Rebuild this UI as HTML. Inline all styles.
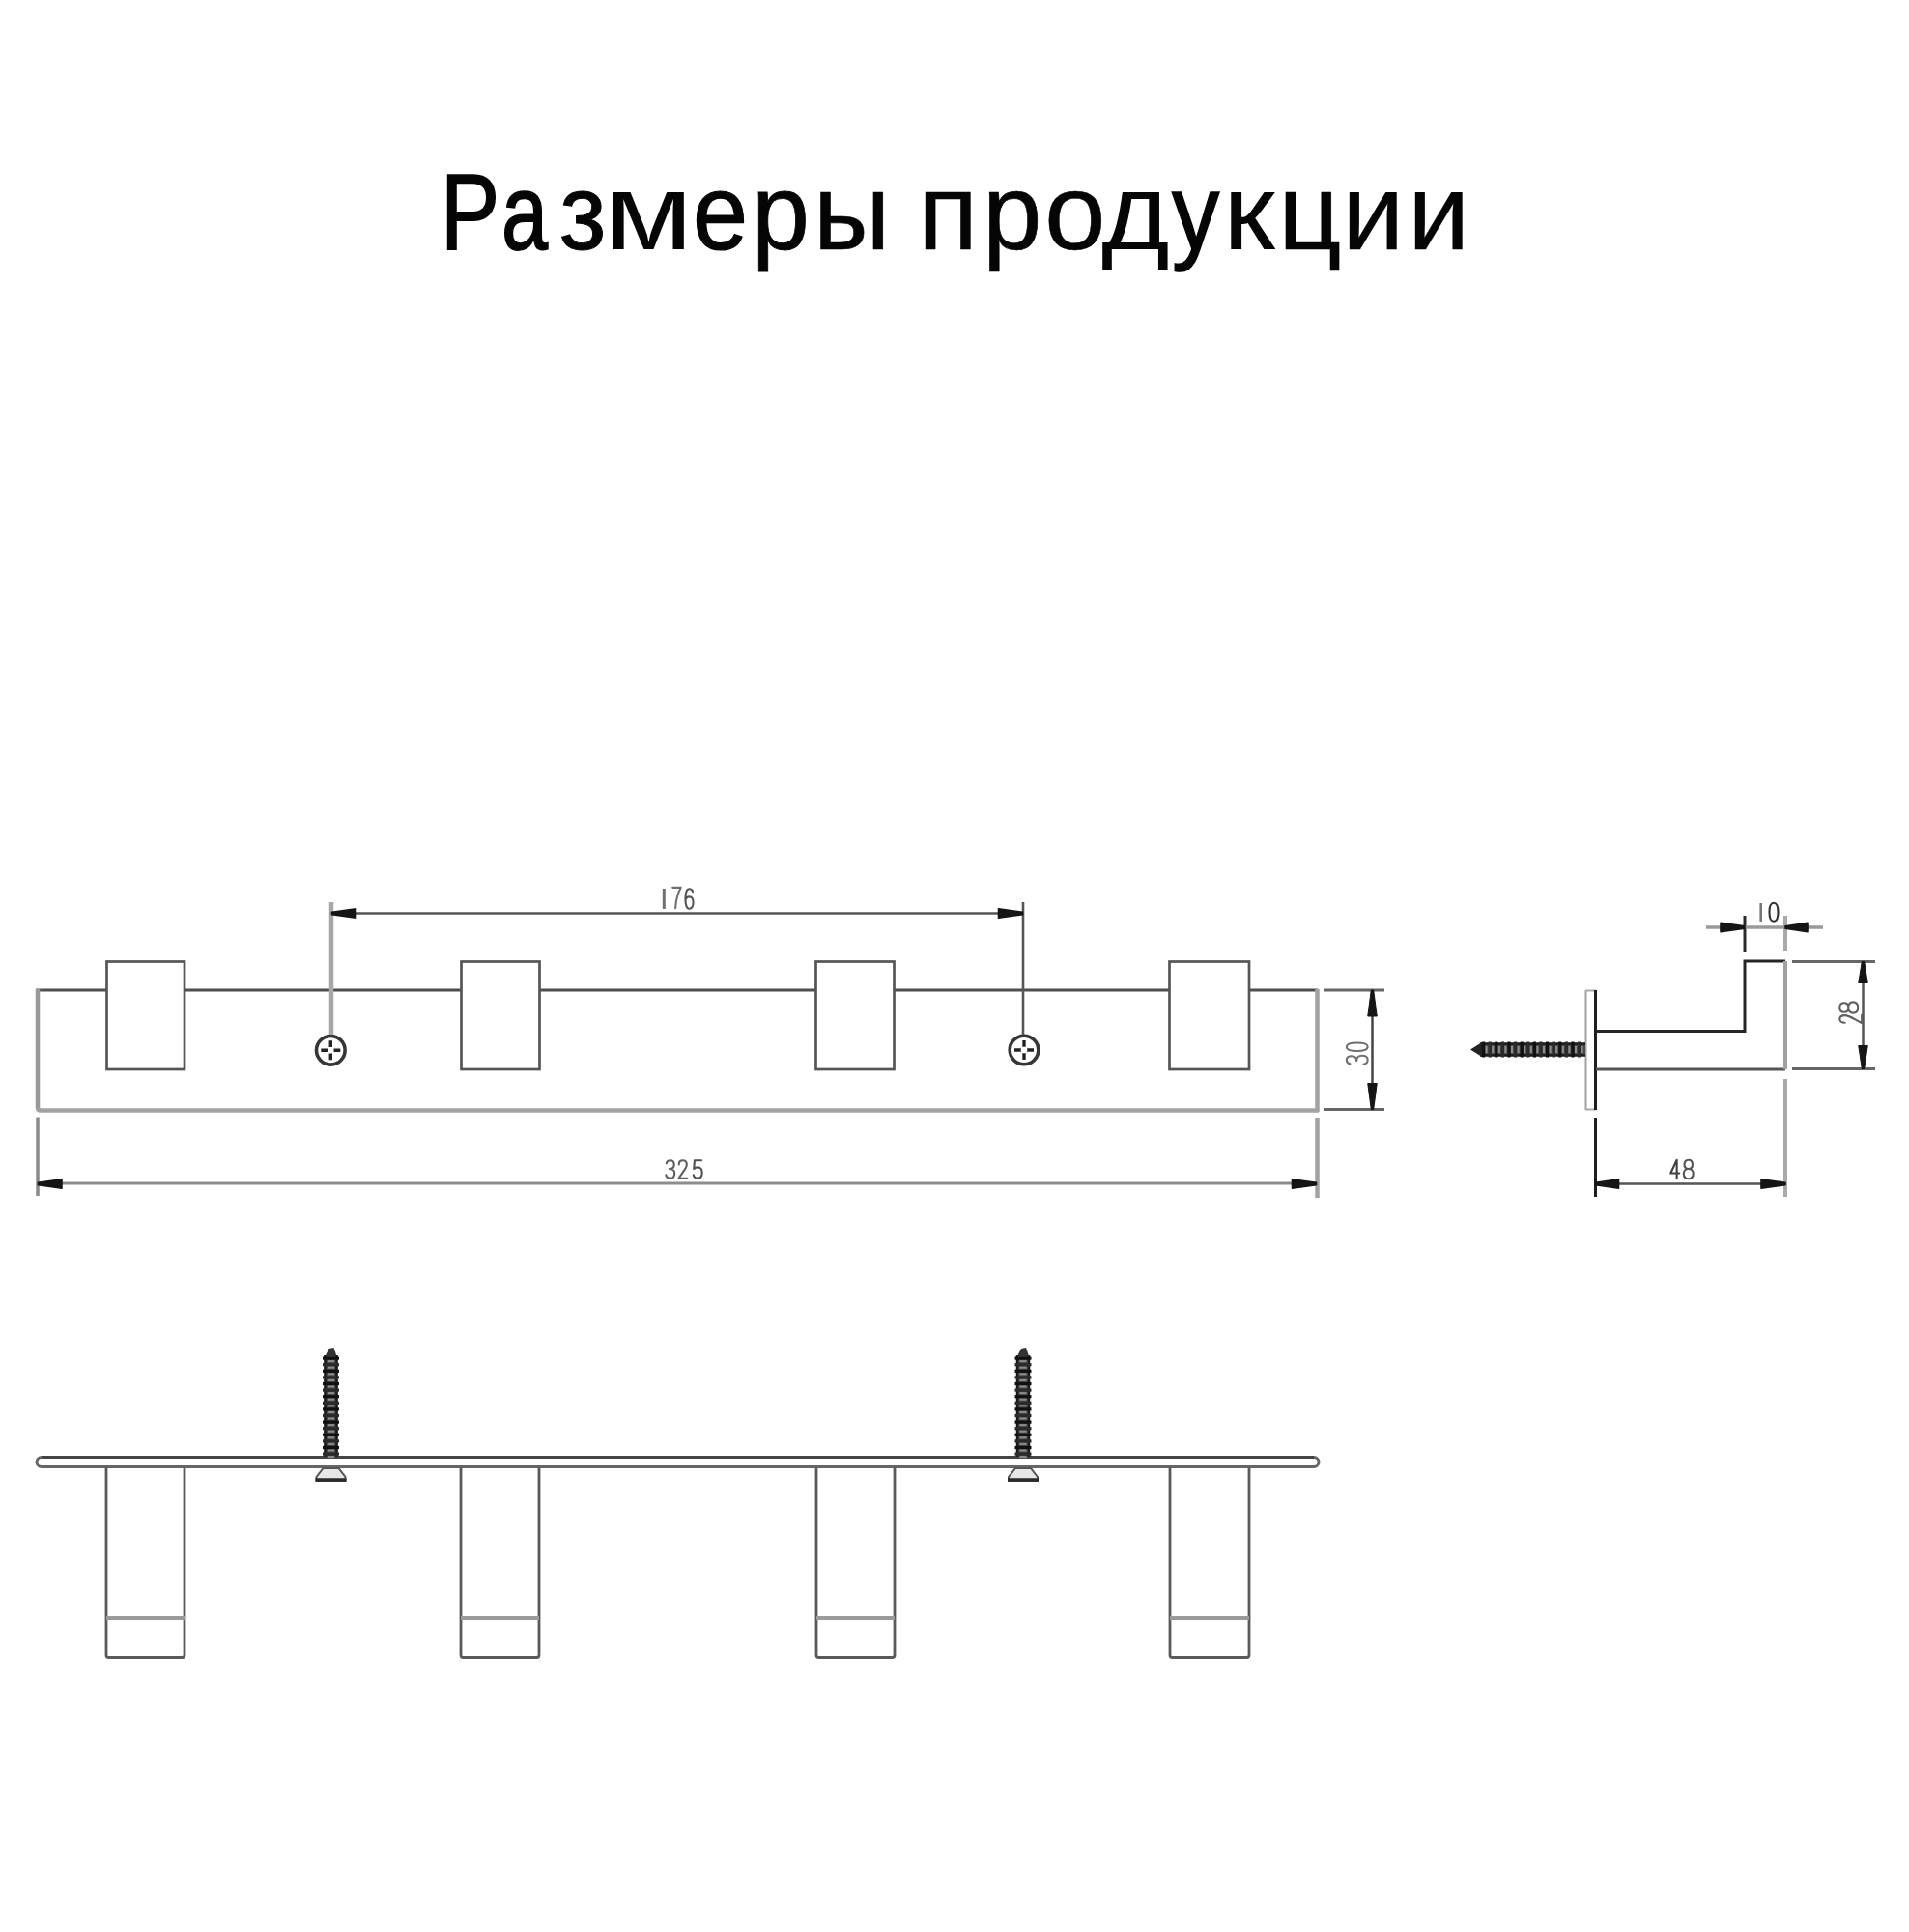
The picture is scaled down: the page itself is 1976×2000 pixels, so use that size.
<!DOCTYPE html>
<html><head><meta charset="utf-8">
<style>
html,body{margin:0;padding:0;background:#fff;width:1976px;height:2000px;overflow:hidden}
.t{position:absolute;font-family:"Liberation Sans",sans-serif;font-size:112px;line-height:1;white-space:nowrap;color:#050505;transform-origin:0 0}
svg{position:absolute;left:0;top:0}
.d{font-family:"Liberation Sans",sans-serif;font-size:30px;fill:#3c3c3c}
</style></head>
<body>
<div class="t" style="left:456.44px;top:164px;transform:scaleX(0.8183);-webkit-text-stroke:1.75px #050505">Р</div>
<div class="t" style="left:519.04px;top:164px;transform:scaleX(0.7719);-webkit-text-stroke:1.75px #050505">а</div>
<div class="t" style="left:579.17px;top:164px;transform:scaleX(0.9432);-webkit-text-stroke:1.02px #050505">з</div>
<div class="t" style="left:625.24px;top:164px;transform:scaleX(1.1951);-webkit-text-stroke:0.00px #050505">м</div>
<div class="t" style="left:717.01px;top:164px;transform:scaleX(0.9173);-webkit-text-stroke:1.24px #050505">е</div>
<div class="t" style="left:777.66px;top:164px;transform:scaleX(0.9627);-webkit-text-stroke:0.85px #050505">р</div>
<div class="t" style="left:841.91px;top:164px;transform:scaleX(0.9862);-webkit-text-stroke:0.67px #050505">ы</div>
<div class="t" style="left:949.87px;top:164px;transform:scaleX(1.0289);-webkit-text-stroke:0.35px #050505">п</div>
<div class="t" style="left:1017.20px;top:164px;transform:scaleX(0.9863);-webkit-text-stroke:0.67px #050505">р</div>
<div class="t" style="left:1081.09px;top:164px;transform:scaleX(1.0226);-webkit-text-stroke:0.39px #050505">о</div>
<div class="t" style="left:1139.92px;top:164px;transform:scaleX(1.0806);-webkit-text-stroke:0.00px #050505">д</div>
<div class="t" style="left:1213.00px;top:164px;transform:scaleX(0.8786);-webkit-text-stroke:1.60px #050505">у</div>
<div class="t" style="left:1265.52px;top:164px;transform:scaleX(1.0976);-webkit-text-stroke:0.00px #050505">к</div>
<div class="t" style="left:1323.21px;top:164px;transform:scaleX(1.0241);-webkit-text-stroke:0.38px #050505">ц</div>
<div class="t" style="left:1388.74px;top:164px;transform:scaleX(1.0319);-webkit-text-stroke:0.33px #050505">и</div>
<div class="t" style="left:1457.06px;top:164px;transform:scaleX(1.0298);-webkit-text-stroke:0.34px #050505">и</div>
<svg width="1976" height="2000" viewBox="0 0 1976 2000">
<g fill="none" stroke-linecap="butt">
<path d="M38 1025 H110 M191 1025 H477 M558 1025 H844 M925 1025 H1210 M1293 1025 H1364" stroke="#4e4e4e" stroke-width="2.8"/>
<path d="M39 1023.6 V1147" stroke="#999" stroke-width="4.5"/>
<path d="M39 1146.5 Q39 1149.5 42 1149.5 H1365" stroke="#a2a2a2" stroke-width="4.5"/>
<path d="M1363.5 1024 V1151" stroke="#a2a2a2" stroke-width="4.5"/>
<rect x="110.5" y="995.5" width="80.5" height="111.5" stroke="#555" stroke-width="2.7"/>
<rect x="477.5" y="995.5" width="81" height="111.5" stroke="#555" stroke-width="2.7"/>
<rect x="844.5" y="995.5" width="81" height="111.5" stroke="#555" stroke-width="2.7"/>
<rect x="1210.5" y="995.5" width="82.5" height="111.5" stroke="#555" stroke-width="2.7"/>
<circle cx="342.3" cy="1087.3" r="14.8" stroke="#363636" stroke-width="3.6"/>
<path d="M342.3 1077.3 V1084.1 M342.3 1090.5 V1097.3 M332.3 1087.3 H339.1 M345.5 1087.3 H352.3" stroke="#222" stroke-width="3.4"/>
<circle cx="1060" cy="1087" r="14.8" stroke="#363636" stroke-width="3.6"/>
<path d="M1060 1077 V1083.8 M1060 1090.2 V1097 M1050 1087 H1056.8 M1063.2 1087 H1070" stroke="#222" stroke-width="3.4"/>
<path d="M343 934 V1071" stroke="#a8a8a8" stroke-width="4.5"/>
<path d="M1059 934 V1071" stroke="#555" stroke-width="2.6"/>
<path d="M343 945.5 H1059" stroke="#555" stroke-width="2.4"/>
<path d="M39 1156.5 V1238" stroke="#8a8a8a" stroke-width="3.5"/>
<path d="M1363.5 1157 V1240" stroke="#a2a2a2" stroke-width="4.5"/>
<path d="M39 1225 H1363" stroke="#8c8c8c" stroke-width="3"/>
<path d="M1370 1025 H1433 M1370 1148.5 H1433" stroke="#666" stroke-width="3"/>
<path d="M1420.5 1025 V1148.5" stroke="#444" stroke-width="2.5"/>
</g>
<polygon points="343.5,944.3 368.5,940.75 368.5,950.25 343.5,946.7" fill="#151515" stroke="#151515" stroke-width="1.6" stroke-linejoin="round"/>
<polygon points="1058.5,944.3 1033.5,940.75 1033.5,950.25 1058.5,946.7" fill="#151515" stroke="#151515" stroke-width="1.6" stroke-linejoin="round"/>
<polygon points="39.5,1224.3 64.0,1220.75 64.0,1230.25 39.5,1226.7" fill="#151515" stroke="#151515" stroke-width="1.6" stroke-linejoin="round"/>
<polygon points="1362.5,1224.3 1337.5,1220.75 1337.5,1230.25 1362.5,1226.7" fill="#151515" stroke="#151515" stroke-width="1.6" stroke-linejoin="round"/>
<polygon points="1419.3,1025 1415.75,1052 1425.25,1052 1421.7,1025" fill="#151515" stroke="#151515" stroke-width="1" stroke-linejoin="round"/>
<polygon points="1419.3,1148.5 1415.75,1121.5 1425.25,1121.5 1421.7,1148.5" fill="#151515" stroke="#151515" stroke-width="1" stroke-linejoin="round"/>
<path d="M687.3 920 V941" stroke="#707070" stroke-width="3"/>
<path d="M0.3 0.3 H9.7 C6 6 4 12 3.5 19.7" transform="translate(696 918.5) scale(0.9 1.1)" fill="none" stroke="#707070" stroke-width="2.1" vector-effect="non-scaling-stroke" stroke-linecap="round" stroke-linejoin="round"/>
<path d="M9 3 C8.5 1.2 7 0.3 5 0.3 C2 0.3 0.5 3.5 0.5 10 C0.5 16.5 2 19.7 5 19.7 C8 19.7 9.5 17.5 9.5 13.5 C9.5 9.8 8 8 5 8 C2.5 8 1 9.5 0.5 12" transform="translate(709 920) scale(0.9 1.05)" fill="none" stroke="#555" stroke-width="2.1" vector-effect="non-scaling-stroke" stroke-linecap="round" stroke-linejoin="round"/>
<path d="M0.8 3.5 C1.3 1.2 3 0.3 5 0.3 C7.8 0.3 9.2 2 9.2 5 C9.2 8 7.5 9.5 4 9.5 C8 9.5 9.7 11.5 9.7 14.5 C9.7 18 7.8 19.7 5 19.7 C2.5 19.7 0.8 18.5 0.3 16" transform="translate(689 1201) scale(0.95 0.95)" fill="none" stroke="#606060" stroke-width="2.1" vector-effect="non-scaling-stroke" stroke-linecap="round" stroke-linejoin="round"/>
<path d="M0.8 4.8 C0.8 1.8 2.5 0.3 5 0.3 C7.8 0.3 9.3 2 9.3 5 C9.3 8.5 6 11.5 0.5 19.7 H9.7" transform="translate(702 1201) scale(0.95 0.95)" fill="none" stroke="#606060" stroke-width="2.1" vector-effect="non-scaling-stroke" stroke-linecap="round" stroke-linejoin="round"/>
<path d="M9 0.3 H1.5 L0.8 9.5 C2 8.3 3.5 7.8 5 7.8 C8 7.8 9.7 10 9.7 13.5 C9.7 17.5 7.8 19.7 5 19.7 C2.5 19.7 0.8 18.5 0.3 16" transform="translate(717.5 1201) scale(0.95 0.95)" fill="none" stroke="#505050" stroke-width="2.1" vector-effect="non-scaling-stroke" stroke-linecap="round" stroke-linejoin="round"/>
<path d="M0.8 3.5 C1.3 1.2 3 0.3 5 0.3 C7.8 0.3 9.2 2 9.2 5 C9.2 8 7.5 9.5 4 9.5 C8 9.5 9.7 11.5 9.7 14.5 C9.7 18 7.8 19.7 5 19.7 C2.5 19.7 0.8 18.5 0.3 16" transform="translate(1393.5 1102) rotate(-90) scale(0.95 1.125)" fill="none" stroke="#707070" stroke-width="2.1" vector-effect="non-scaling-stroke" stroke-linecap="round" stroke-linejoin="round"/>
<path d="M5 0.3 C1.8 0.3 0.5 4 0.5 10 C0.5 16 1.8 19.7 5 19.7 C8.2 19.7 9.5 16 9.5 10 C9.5 4 8.2 0.3 5 0.3 Z" transform="translate(1393.5 1088.5) rotate(-90) scale(0.95 1.125)" fill="none" stroke="#707070" stroke-width="2.1" vector-effect="non-scaling-stroke" stroke-linecap="round" stroke-linejoin="round"/>
<g fill="none">
<path d="M1641.5 1025 V1149" stroke="#a0a0a0" stroke-width="2"/>
<path d="M1641 1025.5 H1652 M1641 1148.5 H1652" stroke="#aaa" stroke-width="2"/>
<path d="M1651.5 1025 V1149" stroke="#1e1e1e" stroke-width="3"/>
<path d="M1652 1067.5 H1806 V995 H1848" stroke="#262626" stroke-width="3"/>
<path d="M1652 1107 H1848" stroke="#555" stroke-width="2.8"/>
<path d="M1848 995 V1107" stroke="#a0a0a0" stroke-width="4"/>
<path d="M1806 948 V986" stroke="#2a2a2a" stroke-width="3"/>
<path d="M1848 948 V984" stroke="#aaa" stroke-width="4"/>
<path d="M1766 960 H1887" stroke="#999" stroke-width="3.5"/>
<path d="M1855 995.5 H1941 M1855 1106.5 H1941" stroke="#666" stroke-width="3"/>
<path d="M1928.5 995 V1107" stroke="#555" stroke-width="2.5"/>
<path d="M1651.5 1157 V1239" stroke="#1e1e1e" stroke-width="3"/>
<path d="M1848 1117 V1239" stroke="#aaa" stroke-width="4"/>
<path d="M1651 1225.5 H1848" stroke="#555" stroke-width="2.5"/>
</g>
<polygon points="1806,958.8 1781,955.25 1781,964.75 1806,961.2" fill="#151515" stroke="#151515" stroke-width="1.6" stroke-linejoin="round"/>
<polygon points="1848,958.8 1871,955.25 1871,964.75 1848,961.2" fill="#151515" stroke="#151515" stroke-width="1.6" stroke-linejoin="round"/>
<polygon points="1927.3,995.5 1923.75,1017.5 1933.25,1017.5 1929.7,995.5" fill="#151515" stroke="#151515" stroke-width="1" stroke-linejoin="round"/>
<polygon points="1927.3,1106.5 1923.75,1082.5 1933.25,1082.5 1929.7,1106.5" fill="#151515" stroke="#151515" stroke-width="1" stroke-linejoin="round"/>
<polygon points="1651.5,1224.3 1675.5,1220.75 1675.5,1230.25 1651.5,1226.7" fill="#151515" stroke="#151515" stroke-width="1.6" stroke-linejoin="round"/>
<polygon points="1848,1224.3 1823,1220.75 1823,1230.25 1848,1226.7" fill="#151515" stroke="#151515" stroke-width="1.6" stroke-linejoin="round"/>
<rect x="1532" y="1080" width="109" height="13" fill="#4a4a4a"/>
<path d="M1532 1080.5 H1641 M1532 1092.5 H1641" stroke="#1a1a1a" stroke-width="2.5"/>
<rect x="1534.0" y="1078.5" width="3.2" height="16" fill="#111"/>
<rect x="1537.6" y="1083" width="2" height="7" fill="#8c8c8c"/>
<rect x="1540.6" y="1078.5" width="3.2" height="16" fill="#2a2a2a"/>
<rect x="1544.2" y="1083" width="2" height="7" fill="#8c8c8c"/>
<rect x="1547.2" y="1078.5" width="3.2" height="16" fill="#111"/>
<rect x="1550.8" y="1083" width="2" height="7" fill="#8c8c8c"/>
<rect x="1553.8" y="1078.5" width="3.2" height="16" fill="#2a2a2a"/>
<rect x="1557.4" y="1083" width="2" height="7" fill="#8c8c8c"/>
<rect x="1560.4" y="1078.5" width="3.2" height="16" fill="#111"/>
<rect x="1564.0" y="1083" width="2" height="7" fill="#8c8c8c"/>
<rect x="1567.0" y="1078.5" width="3.2" height="16" fill="#2a2a2a"/>
<rect x="1570.6" y="1083" width="2" height="7" fill="#8c8c8c"/>
<rect x="1573.6" y="1078.5" width="3.2" height="16" fill="#111"/>
<rect x="1577.2" y="1083" width="2" height="7" fill="#8c8c8c"/>
<rect x="1580.2" y="1078.5" width="3.2" height="16" fill="#2a2a2a"/>
<rect x="1583.8" y="1083" width="2" height="7" fill="#8c8c8c"/>
<rect x="1586.8" y="1078.5" width="3.2" height="16" fill="#111"/>
<rect x="1590.4" y="1083" width="2" height="7" fill="#8c8c8c"/>
<rect x="1593.4" y="1078.5" width="3.2" height="16" fill="#2a2a2a"/>
<rect x="1597.0" y="1083" width="2" height="7" fill="#8c8c8c"/>
<rect x="1600.0" y="1078.5" width="3.2" height="16" fill="#111"/>
<rect x="1603.6" y="1083" width="2" height="7" fill="#8c8c8c"/>
<rect x="1606.6" y="1078.5" width="3.2" height="16" fill="#2a2a2a"/>
<rect x="1610.2" y="1083" width="2" height="7" fill="#8c8c8c"/>
<rect x="1613.2" y="1078.5" width="3.2" height="16" fill="#111"/>
<rect x="1616.8" y="1083" width="2" height="7" fill="#8c8c8c"/>
<rect x="1619.8" y="1078.5" width="3.2" height="16" fill="#2a2a2a"/>
<rect x="1623.4" y="1083" width="2" height="7" fill="#8c8c8c"/>
<rect x="1626.4" y="1078.5" width="3.2" height="16" fill="#111"/>
<rect x="1630.0" y="1083" width="2" height="7" fill="#8c8c8c"/>
<rect x="1633.0" y="1078.5" width="3.2" height="16" fill="#2a2a2a"/>
<rect x="1636.6" y="1083" width="2" height="7" fill="#8c8c8c"/>
<polygon points="1522,1086.5 1534,1079 1534,1094" fill="#222"/>
<path d="M1822.7 935 V954" stroke="#777" stroke-width="2.6"/>
<path d="M5 0.3 C1.8 0.3 0.5 4 0.5 10 C0.5 16 1.8 19.7 5 19.7 C8.2 19.7 9.5 16 9.5 10 C9.5 4 8.2 0.3 5 0.3 Z" transform="translate(1831 934.5) scale(1.0 0.975)" fill="none" stroke="#303030" stroke-width="2.1" vector-effect="non-scaling-stroke" stroke-linecap="round" stroke-linejoin="round"/>
<path d="M7 19.7 V0.3 L0.3 14 H9.7" transform="translate(1729 1200.5) scale(0.95 1.0)" fill="none" stroke="#404040" stroke-width="2.1" vector-effect="non-scaling-stroke" stroke-linecap="round" stroke-linejoin="round"/>
<path d="M5 9.5 C2 9.5 1 8 1 5 C1 2 2.5 0.3 5 0.3 C7.5 0.3 9 2 9 5 C9 8 8 9.5 5 9.5 C1.8 9.5 0.3 11.5 0.3 14.5 C0.3 18 2 19.7 5 19.7 C8 19.7 9.7 18 9.7 14.5 C9.7 11.5 8.2 9.5 5 9.5 Z" transform="translate(1742.5 1200.5) scale(1.05 1.0)" fill="none" stroke="#555" stroke-width="2.1" vector-effect="non-scaling-stroke" stroke-linecap="round" stroke-linejoin="round"/>
<path d="M0.8 4.8 C0.8 1.8 2.5 0.3 5 0.3 C7.8 0.3 9.3 2 9.3 5 C9.3 8.5 6 11.5 0.5 19.7 H9.7" transform="translate(1904 1059.5) rotate(-90) scale(0.9 1.175)" fill="none" stroke="#606060" stroke-width="2.1" vector-effect="non-scaling-stroke" stroke-linecap="round" stroke-linejoin="round"/>
<path d="M5 9.5 C2 9.5 1 8 1 5 C1 2 2.5 0.3 5 0.3 C7.5 0.3 9 2 9 5 C9 8 8 9.5 5 9.5 C1.8 9.5 0.3 11.5 0.3 14.5 C0.3 18 2 19.7 5 19.7 C8 19.7 9.7 18 9.7 14.5 C9.7 11.5 8.2 9.5 5 9.5 Z" transform="translate(1904 1049) rotate(-90) scale(1.2 0.975)" fill="none" stroke="#606060" stroke-width="2.1" vector-effect="non-scaling-stroke" stroke-linecap="round" stroke-linejoin="round"/>
<g fill="none">
<path d="M43 1508.5 H1360" stroke="#444" stroke-width="3"/>
<path d="M43 1518.5 H1360" stroke="#666" stroke-width="2.8"/>
<path d="M43 1508.5 A5 5 0 0 0 43 1518.5 M1360 1508.5 A5 5 0 0 1 1360 1518.5" stroke="#666" stroke-width="3"/>
<path d="M110 1519 V1713 Q110 1715.5 112.5 1715.5 H188.5 Q191 1715.5 191 1713 V1519" stroke="#5a5a5a" stroke-width="2.8"/>
<path d="M110 1675 H191" stroke="#9a9a9a" stroke-width="4"/>
<path d="M477 1519 V1713 Q477 1715.5 479.5 1715.5 H555.5 Q558 1715.5 558 1713 V1519" stroke="#5a5a5a" stroke-width="2.8"/>
<path d="M477 1675 H558" stroke="#9a9a9a" stroke-width="4"/>
<path d="M845 1519 V1713 Q845 1715.5 847.5 1715.5 H923.5 Q926 1715.5 926 1713 V1519" stroke="#5a5a5a" stroke-width="2.8"/>
<path d="M845 1675 H926" stroke="#9a9a9a" stroke-width="4"/>
<path d="M1211 1519 V1713 Q1211 1715.5 1213.5 1715.5 H1290.5 Q1293 1715.5 1293 1713 V1519" stroke="#5a5a5a" stroke-width="2.8"/>
<path d="M1211 1675 H1293" stroke="#9a9a9a" stroke-width="4"/>
</g>
<rect x="335.5" y="1403" width="14" height="105" fill="#4a4a4a"/>
<path d="M336.5 1403 V1508 M348.5 1403 V1508" stroke="#1a1a1a" stroke-width="2.5"/>
<rect x="334.0" y="1404.5" width="17" height="3.2" fill="#111"/>
<rect x="339.0" y="1408.1" width="7" height="2" fill="#8c8c8c"/>
<rect x="334.0" y="1411.1" width="17" height="3.2" fill="#2a2a2a"/>
<rect x="339.0" y="1414.7" width="7" height="2" fill="#8c8c8c"/>
<rect x="334.0" y="1417.7" width="17" height="3.2" fill="#111"/>
<rect x="339.0" y="1421.3" width="7" height="2" fill="#8c8c8c"/>
<rect x="334.0" y="1424.3" width="17" height="3.2" fill="#2a2a2a"/>
<rect x="339.0" y="1427.9" width="7" height="2" fill="#8c8c8c"/>
<rect x="334.0" y="1430.9" width="17" height="3.2" fill="#111"/>
<rect x="339.0" y="1434.5" width="7" height="2" fill="#8c8c8c"/>
<rect x="334.0" y="1437.5" width="17" height="3.2" fill="#2a2a2a"/>
<rect x="339.0" y="1441.1" width="7" height="2" fill="#8c8c8c"/>
<rect x="334.0" y="1444.1" width="17" height="3.2" fill="#111"/>
<rect x="339.0" y="1447.7" width="7" height="2" fill="#8c8c8c"/>
<rect x="334.0" y="1450.7" width="17" height="3.2" fill="#2a2a2a"/>
<rect x="339.0" y="1454.3" width="7" height="2" fill="#8c8c8c"/>
<rect x="334.0" y="1457.3" width="17" height="3.2" fill="#111"/>
<rect x="339.0" y="1460.9" width="7" height="2" fill="#8c8c8c"/>
<rect x="334.0" y="1463.9" width="17" height="3.2" fill="#2a2a2a"/>
<rect x="339.0" y="1467.5" width="7" height="2" fill="#8c8c8c"/>
<rect x="334.0" y="1470.5" width="17" height="3.2" fill="#111"/>
<rect x="339.0" y="1474.1" width="7" height="2" fill="#8c8c8c"/>
<rect x="334.0" y="1477.1" width="17" height="3.2" fill="#2a2a2a"/>
<rect x="339.0" y="1480.7" width="7" height="2" fill="#8c8c8c"/>
<rect x="334.0" y="1483.7" width="17" height="3.2" fill="#111"/>
<rect x="339.0" y="1487.3" width="7" height="2" fill="#8c8c8c"/>
<rect x="334.0" y="1490.3" width="17" height="3.2" fill="#2a2a2a"/>
<rect x="339.0" y="1493.9" width="7" height="2" fill="#8c8c8c"/>
<rect x="334.0" y="1496.9" width="17" height="3.2" fill="#111"/>
<rect x="339.0" y="1500.5" width="7" height="2" fill="#8c8c8c"/>
<rect x="334.0" y="1503.5" width="17" height="3.2" fill="#2a2a2a"/>
<rect x="339.0" y="1507.1" width="7" height="2" fill="#8c8c8c"/>
<polygon points="336.5,1404 340.5,1396 345.5,1395 348.5,1404" fill="#333"/>
<polygon points="334.5,1520 350.5,1520 357.5,1529 357.5,1533 327.5,1533 327.5,1529" fill="#e6e6e6" stroke="#555" stroke-width="2"/>
<path d="M326.5 1532 H358.5" stroke="#2a2a2a" stroke-width="3.5"/>
<rect x="1052" y="1403" width="14" height="105" fill="#4a4a4a"/>
<path d="M1053 1403 V1508 M1065 1403 V1508" stroke="#1a1a1a" stroke-width="2.5"/>
<rect x="1050.5" y="1404.5" width="17" height="3.2" fill="#111"/>
<rect x="1055.5" y="1408.1" width="7" height="2" fill="#8c8c8c"/>
<rect x="1050.5" y="1411.1" width="17" height="3.2" fill="#2a2a2a"/>
<rect x="1055.5" y="1414.7" width="7" height="2" fill="#8c8c8c"/>
<rect x="1050.5" y="1417.7" width="17" height="3.2" fill="#111"/>
<rect x="1055.5" y="1421.3" width="7" height="2" fill="#8c8c8c"/>
<rect x="1050.5" y="1424.3" width="17" height="3.2" fill="#2a2a2a"/>
<rect x="1055.5" y="1427.9" width="7" height="2" fill="#8c8c8c"/>
<rect x="1050.5" y="1430.9" width="17" height="3.2" fill="#111"/>
<rect x="1055.5" y="1434.5" width="7" height="2" fill="#8c8c8c"/>
<rect x="1050.5" y="1437.5" width="17" height="3.2" fill="#2a2a2a"/>
<rect x="1055.5" y="1441.1" width="7" height="2" fill="#8c8c8c"/>
<rect x="1050.5" y="1444.1" width="17" height="3.2" fill="#111"/>
<rect x="1055.5" y="1447.7" width="7" height="2" fill="#8c8c8c"/>
<rect x="1050.5" y="1450.7" width="17" height="3.2" fill="#2a2a2a"/>
<rect x="1055.5" y="1454.3" width="7" height="2" fill="#8c8c8c"/>
<rect x="1050.5" y="1457.3" width="17" height="3.2" fill="#111"/>
<rect x="1055.5" y="1460.9" width="7" height="2" fill="#8c8c8c"/>
<rect x="1050.5" y="1463.9" width="17" height="3.2" fill="#2a2a2a"/>
<rect x="1055.5" y="1467.5" width="7" height="2" fill="#8c8c8c"/>
<rect x="1050.5" y="1470.5" width="17" height="3.2" fill="#111"/>
<rect x="1055.5" y="1474.1" width="7" height="2" fill="#8c8c8c"/>
<rect x="1050.5" y="1477.1" width="17" height="3.2" fill="#2a2a2a"/>
<rect x="1055.5" y="1480.7" width="7" height="2" fill="#8c8c8c"/>
<rect x="1050.5" y="1483.7" width="17" height="3.2" fill="#111"/>
<rect x="1055.5" y="1487.3" width="7" height="2" fill="#8c8c8c"/>
<rect x="1050.5" y="1490.3" width="17" height="3.2" fill="#2a2a2a"/>
<rect x="1055.5" y="1493.9" width="7" height="2" fill="#8c8c8c"/>
<rect x="1050.5" y="1496.9" width="17" height="3.2" fill="#111"/>
<rect x="1055.5" y="1500.5" width="7" height="2" fill="#8c8c8c"/>
<rect x="1050.5" y="1503.5" width="17" height="3.2" fill="#2a2a2a"/>
<rect x="1055.5" y="1507.1" width="7" height="2" fill="#8c8c8c"/>
<polygon points="1053,1404 1057,1396 1062,1395 1065,1404" fill="#333"/>
<polygon points="1051,1520 1067,1520 1074,1529 1074,1533 1044,1533 1044,1529" fill="#e6e6e6" stroke="#555" stroke-width="2"/>
<path d="M1043 1532 H1075" stroke="#2a2a2a" stroke-width="3.5"/>
</svg>
</body></html>
